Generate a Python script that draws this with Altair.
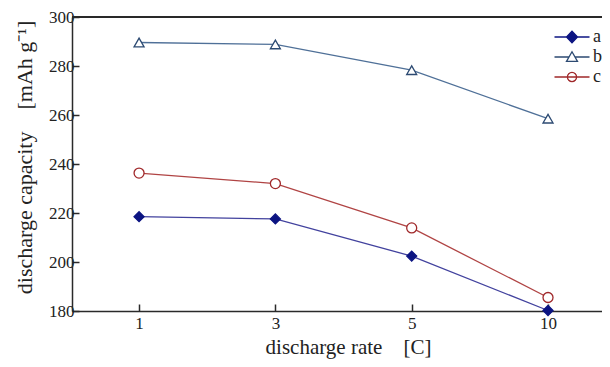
import altair as alt
import pandas as pd

# ---- data ----
rates = ["1", "3", "5", "10"]
series_names = ["a", "b", "c"]
series_a = [218.5, 217.6, 202.4, 180.2]
series_b = [289.6, 288.8, 278.3, 258.5]
series_c = [236.3, 232.0, 213.9, 185.5]
y_ticks = [180, 200, 220, 240, 260, 280, 300]

line_colors = ["#42429e", "#4f7098", "#b04444"]
marker_colors = ["#0c1482", "#2c4a72", "#a0282a"]
marker_fills = ["#0c1482", "#ffffff", "#ffffff"]
marker_shapes = ["diamond", "triangle-up", "circle"]
legend_shapes = [
    "M-1.75,0H1.75M0,-0.58L0.55,0L0,0.58L-0.55,0Z",
    "M-1.75,0H-0.3M0.3,0H1.75M0,-0.52L0.55,0.44L-0.55,0.44Z",
    "M-1.75,0H1.75M-0.46,0A0.46,0.46 0 1,0 0.46,0A0.46,0.46 0 1,0 -0.46,0Z",
]

rows = []
for name, vals in zip(series_names, [series_a, series_b, series_c]):
    for r, v in zip(rates, vals):
        rows.append({"rate": r, "capacity": v, "series": name})
df = pd.DataFrame(rows)

W, H = 530, 294
FONT = "Liberation Serif"
AX = "#2a2a2a"

x_enc = alt.X(
    "rate:O",
    sort=rates,
    scale=alt.Scale(type="point", domain=rates, padding=0.444, align=0.554),
    axis=alt.Axis(
        title="discharge rate\u00a0\u00a0\u00a0\u00a0[C]",
        labelAngle=0,
        tickSize=alt.ExprRef(expr="-7"),
        labelPadding=11,
        titleX=276,
        titleY=42,
        titleBaseline="alphabetic",
        titleFontSize=21,
    ),
)
y_enc = alt.Y(
    "capacity:Q",
    scale=alt.Scale(domain=[180, 300], nice=False, zero=False),
    axis=alt.Axis(
        values=y_ticks,
        title="discharge capacity\u00a0\u00a0\u00a0\u00a0[mAh g\u207b\u00b9]",
        tickSize=alt.ExprRef(expr="-7"),
        labelPadding=5,
        titleX=-41,
        titleY=140,
        titleBaseline="alphabetic",
        titleFontSize=22,
    ),
)

base = alt.Chart(df)

lines = base.mark_line(strokeWidth=1.3).encode(
    x=x_enc,
    y=y_enc,
    color=alt.Color("series:N", scale=alt.Scale(domain=series_names, range=line_colors), legend=None),
    detail="series:N",
)

points = base.mark_point(size=100, strokeWidth=1.3, opacity=1).encode(
    x=x_enc,
    y=y_enc,
    stroke=alt.Stroke("series:N", scale=alt.Scale(domain=series_names, range=marker_colors), legend=None),
    fill=alt.Fill("series:N", scale=alt.Scale(domain=series_names, range=marker_fills), legend=None),
    shape=alt.Shape("series:N", scale=alt.Scale(domain=series_names, range=marker_shapes), legend=None),
)

leg = alt.Legend(
    title=None,
    orient="none",
    legendX=489,
    legendY=9,
    symbolSize=400,
    symbolStrokeWidth=1.3,
    labelFont=FONT,
    labelFontSize=18,
    labelColor="#222",
    labelOffset=10,
    rowPadding=0,
)

legend_layer = base.mark_point(size=0, strokeWidth=1.3, opacity=1).encode(
    x=x_enc,
    y=y_enc,
    stroke=alt.Stroke("series:N", scale=alt.Scale(domain=series_names, range=marker_colors), legend=leg),
    fill=alt.Fill("series:N", scale=alt.Scale(domain=series_names, range=marker_fills), legend=leg),
    shape=alt.Shape("series:N", scale=alt.Scale(domain=series_names, range=legend_shapes), legend=leg),
)

top_border = base.mark_rule(color=AX, strokeWidth=1.5).encode(
    y=alt.datum(300),
    x=alt.value(0),
    x2=alt.value(W),
)

chart = (
    alt.layer(top_border, lines, points, legend_layer)
    .resolve_scale(shape="independent", stroke="independent", fill="independent")
    .properties(
        width=W,
        height=H,
        autosize=alt.AutoSizeParams(type="none"),
        padding={"left": 64, "top": 9, "right": 0, "bottom": 48},
        background="white",
    )
    .configure_view(stroke=None)
    .configure_axis(
        grid=False,
        domainColor=AX,
        domainWidth=1.5,
        tickColor=AX,
        tickWidth=1.5,
        labelFont=FONT,
        labelFontSize=17,
        labelColor="#222",
        titleFont=FONT,
        titleFontWeight="normal",
        titleColor="#222",
    )
)

chart.save("out.html", embed_options={"renderer": "svg", "actions": False})
